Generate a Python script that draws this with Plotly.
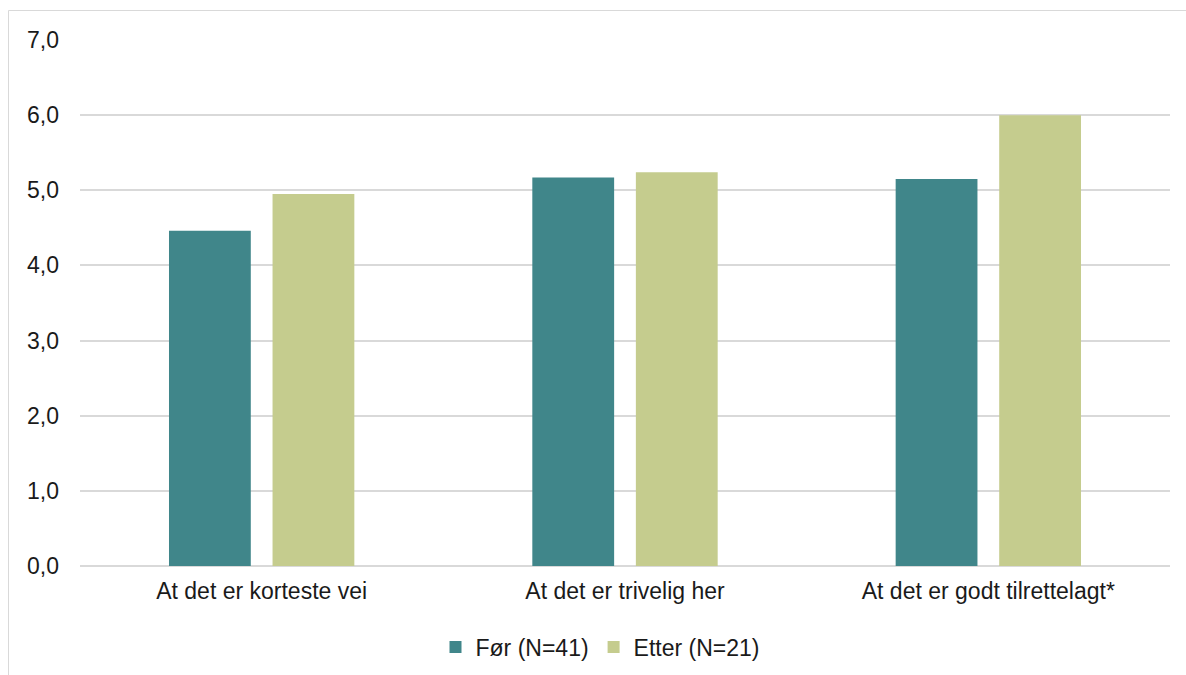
import plotly.graph_objects as go

categories = ["At det er korteste vei", "At det er trivelig her", "At det er godt tilrettelagt*"]
for_values = [4.46, 5.17, 5.15]
etter_values = [4.95, 5.24, 6.0]
series_names = ["Før (N=41)", "Etter (N=21)"]
y_ticks = [0, 1, 2, 3, 4, 5, 6, 7]

W, H = 1186, 675
ml, mr, mt, mb = 80, 16, 40, 109
pw = W - ml - mr
ph = H - mt - mb

def px_x(p):
    return (p - ml) / pw

def px_y(p):
    return (H - mb - p) / ph

fig = go.Figure()
fig.add_trace(go.Bar(x=categories, y=for_values, name=series_names[0],
                     marker=dict(color="#40868A", line=dict(width=0))))
fig.add_trace(go.Bar(x=categories, y=etter_values, name=series_names[1],
                     marker=dict(color="#C5CC8E", line=dict(width=0))))

font = dict(family="Liberation Sans, Arial, sans-serif", size=23, color="#1a1a1a")

fig.update_layout(
    width=W, height=H,
    margin=dict(l=ml, r=mr, t=mt, b=mb, autoexpand=False),
    paper_bgcolor="white", plot_bgcolor="white",
    barmode="group", bargap=0.43, bargroupgap=0.21,
    separators=", ",
    font=font,
    xaxis=dict(showgrid=False, showline=False, ticks="", tickfont=font, ticklabelstandoff=9,
               automargin=False),
    yaxis=dict(range=[0, 7], tickvals=y_ticks, tickformat=".1f", showgrid=True,
               gridcolor="#d9d9d9", gridwidth=1.5, zeroline=True, zerolinecolor="#d9d9d9",
               zerolinewidth=1.5, showline=False, ticks="", ticklabelstandoff=20, tickfont=font,
               automargin=False),
    legend=dict(orientation="h", x=px_x(600), xanchor="center", y=px_y(647), yanchor="middle",
                font=font, traceorder="normal", itemwidth=30),
    showlegend=True,
    shapes=[
        dict(type="line", xref="paper", yref="paper", x0=px_x(8.5), x1=px_x(8.5),
             y0=px_y(10.5), y1=px_y(700), line=dict(color="#d9d9d9", width=1)),
        dict(type="line", xref="paper", yref="paper", x0=px_x(8.5), x1=px_x(1200),
             y0=px_y(10.5), y1=px_y(10.5), line=dict(color="#d9d9d9", width=1)),
    ],
)

fig.write_html("out.html")
